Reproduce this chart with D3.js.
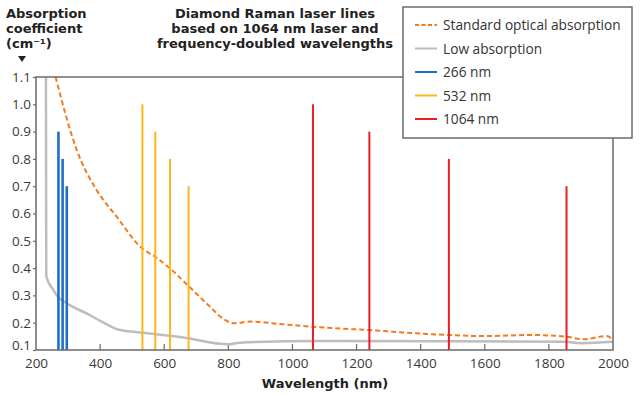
<!DOCTYPE html>
<html>
<head>
<meta charset="utf-8">
<script src="https://cdn.jsdelivr.net/npm/d3@7"></script>
<style>
  body { margin: 0; background: #fff; }
  svg text { font-family: "Open Sans", "Noto Sans", sans-serif; fill: #2a2a2a; }
  .title { font-family: "DejaVu Sans", sans-serif; font-weight: bold; font-size: 13px; fill: #222; }
  .tick-label { font-size: 13.5px; fill: #3a3a3a; }
  .legend-label { font-size: 13.7px; fill: #333; }
</style>
</head>
<body>
<div id="chart"></div>
<script>
// Standard optical absorption curve (dashed orange)
const standardWl = [261, 327, 389, 452, 531, 571, 618, 676, 732, 790, 815, 868, 971, 1065, 1127, 1240, 1387, 1488, 1595, 1741, 1855, 1907, 1980, 2000];
const standardAbs = [1.1, 0.833, 0.686, 0.588, 0.472, 0.442, 0.399, 0.334, 0.271, 0.21, 0.198, 0.204, 0.194, 0.185, 0.18, 0.173, 0.161, 0.155, 0.151, 0.155, 0.149, 0.139, 0.151, 0.137];

// Low absorption curve (grey)
const lowWl = [231, 232, 254, 265, 296, 358, 405, 462, 535, 659, 800, 836, 1086, 1500, 1850, 1900, 2000];
const lowAbs = [1.1, 0.37, 0.32, 0.3, 0.271, 0.234, 0.204, 0.173, 0.163, 0.146, 0.121, 0.127, 0.133, 0.132, 0.13, 0.125, 0.13];

// Raman laser lines: wavelength and relative height
const lines266 = [270, 283, 296];
const heights266 = [0.9, 0.8, 0.7];
const lines532 = [532, 572, 618, 676];
const heights532 = [1.0, 0.9, 0.8, 0.7];
const lines1064 = [1064, 1240, 1488, 1855];
const heights1064 = [1.0, 0.9, 0.8, 0.7];

const xTicks = [200, 400, 600, 800, 1000, 1200, 1400, 1600, 1800, 2000];
const yTicks = [0.1, 0.2, 0.3, 0.4, 0.5, 0.6, 0.7, 0.8, 0.9, 1.0, 1.1];

const orange = '#f47a20';
const grey = '#bdbdbd';
const blue = '#1f6fc6';
const yellow = '#ffb619';
const red = '#ea1c24';
const frameColor = '#6a6a6a';

const width = 640, height = 394;
const plotLeft = 36, plotRight = 613, plotTop = 77, plotBottom = 350;

const svg = d3.select('#chart').append('svg')
  .attr('width', width)
  .attr('height', height);

const x = d3.scaleLinear().domain([200, 2000]).range([plotLeft, plotRight]);
const y = d3.scaleLinear().domain([0.1, 1.1]).range([plotBottom, plotTop]);

// axes
const xAxis = d3.axisBottom(x).tickValues(xTicks).tickFormat(d3.format('d')).tickSize(0).tickPadding(8);
const gx = svg.append('g').attr('transform', `translate(0,${plotBottom})`).call(xAxis);
gx.select('.domain').remove();
gx.selectAll('text').attr('class', 'tick-label').attr('fill', null);
// inward tick marks on the x axis
svg.append('g').selectAll('line').data(xTicks.slice(1, -1)).enter().append('line')
  .attr('x1', d => x(d)).attr('x2', d => x(d))
  .attr('y1', plotBottom).attr('y2', plotBottom - 6)
  .attr('stroke', frameColor).attr('stroke-width', 1.2);

const yAxis = d3.axisLeft(y).tickValues(yTicks).tickFormat(d3.format('.1f')).tickSize(3).tickPadding(2);
const gy = svg.append('g').attr('transform', `translate(${plotLeft},0)`).call(yAxis);
gy.select('.domain').remove();
gy.selectAll('line').attr('stroke', frameColor).attr('stroke-width', 1.2);
gy.selectAll('text').attr('class', 'tick-label').attr('fill', null);
// lift the bottom label a little so it clears the x labels
gy.selectAll('text').filter(d => d === 0.1).attr('dy', '-0.05em');

// curves
const curve = (wl, ab) => d3.line()
  .curve(d3.curveMonotoneX)
  .x((d, i) => x(wl[i])).y((d, i) => y(ab[i]))(wl);

svg.append('path')
  .attr('d', curve(lowWl, lowAbs))
  .attr('fill', 'none').attr('stroke', grey).attr('stroke-width', 2.5);

svg.append('path')
  .attr('d', curve(standardWl, standardAbs))
  .attr('fill', 'none').attr('stroke', orange).attr('stroke-width', 2)
  .attr('stroke-dasharray', '5,3');

// laser lines
function drawLines(wls, hs, color, w) {
  svg.append('g').selectAll('line').data(wls).enter().append('line')
    .attr('x1', d => x(d)).attr('x2', d => x(d))
    .attr('y1', y(0.1)).attr('y2', (d, i) => y(hs[i]))
    .attr('stroke', color).attr('stroke-width', w);
}
drawLines(lines266, heights266, blue, 2.6);
drawLines(lines532, heights532, yellow, 2);
drawLines(lines1064, heights1064, red, 2);

// frame
svg.append('rect')
  .attr('x', plotLeft).attr('y', plotTop)
  .attr('width', plotRight - plotLeft).attr('height', plotBottom - plotTop)
  .attr('fill', 'none').attr('stroke', frameColor).attr('stroke-width', 1.5);

// axis titles
['Absorption', 'coefficient', '(cm\u207B\u00B9)'].forEach((t, i) => {
  svg.append('text').attr('class', 'title')
    .attr('x', 6).attr('y', 18 + i * 15)
    .text(t);
});
svg.append('path')
  .attr('d', 'M18,56 L26,56 L22,62 Z')
  .attr('fill', '#222');

['Diamond Raman laser lines', 'based on 1064 nm laser and', 'frequency-doubled wavelengths']
  .forEach((t, i) => {
    svg.append('text').attr('class', 'title')
      .attr('x', 275).attr('y', 18 + i * 15).attr('text-anchor', 'middle')
      .text(t);
  });

svg.append('text').attr('class', 'title')
  .attr('x', 325).attr('y', 388).attr('text-anchor', 'middle')
  .text('Wavelength (nm)');

// legend
const legendItems = [
  { label: 'Standard optical absorption', color: orange, dash: '4,2.5' },
  { label: 'Low absorption', color: grey, dash: null },
  { label: '266 nm', color: blue, dash: null },
  { label: '532 nm', color: yellow, dash: null },
  { label: '1064 nm', color: red, dash: null },
];
const lg = svg.append('g');
lg.append('rect')
  .attr('x', 403).attr('y', 7).attr('width', 229).attr('height', 131)
  .attr('fill', '#fff').attr('stroke', frameColor).attr('stroke-width', 1.5);
const items = lg.selectAll('g.item').data(legendItems).enter().append('g')
  .attr('class', 'item')
  .attr('transform', (d, i) => `translate(415,${25 + i * 23.5})`);
items.append('line')
  .attr('x1', 0).attr('x2', 22).attr('y1', 0).attr('y2', 0)
  .attr('stroke', d => d.color).attr('stroke-width', 2)
  .attr('stroke-dasharray', d => d.dash);
items.append('text')
  .attr('class', 'legend-label')
  .attr('x', 28).attr('y', 5)
  .text(d => d.label);
</script>
</body>
</html>
